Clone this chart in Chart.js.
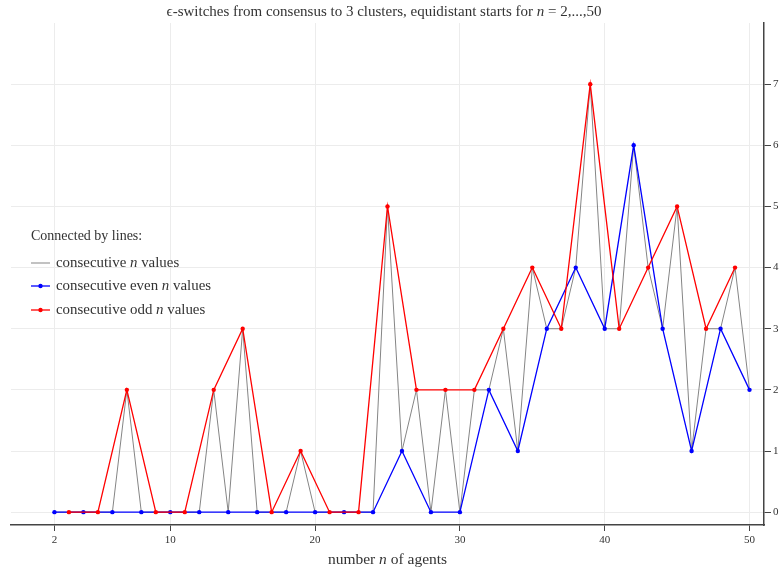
<!DOCTYPE html>
<html>
<head>
<meta charset="utf-8">
<script src="https://cdn.jsdelivr.net/npm/chart.js@4.4.1/dist/chart.umd.min.js"></script>
<style>
  html, body { margin: 0; padding: 0; background: #ffffff; }
  #wrap { width: 780px; height: 572px; }
</style>
</head>
<body>
<div id="wrap"><canvas id="chart" width="780" height="572"></canvas></div>
<script>
// number of agents n
const agentCounts = [2, 3, 4, 5, 6, 7, 8, 9, 10, 11, 12, 13, 14, 15, 16, 17, 18, 19, 20,
  21, 22, 23, 24, 25, 26, 27, 28, 29, 30, 31, 32, 33, 34, 35, 36, 37, 38, 39, 40,
  41, 42, 43, 44, 45, 46, 47, 48, 49, 50];
// number of epsilon-switches observed for each n
const switchCounts = [0, 0, 0, 0, 0, 2, 0, 0, 0, 0, 0, 2, 0, 3, 0, 0, 0, 1, 0,
  0, 0, 0, 0, 5, 1, 2, 0, 2, 0, 2, 2, 3, 1, 4, 3, 3, 4, 7, 3,
  3, 6, 4, 3, 5, 1, 3, 3, 4, 2];
const xTickValues = [2, 10, 20, 30, 40, 50];
const yTickValues = [0, 1, 2, 3, 4, 5, 6, 7];

const titleParts = [['\u03F5-switches from consensus to 3 clusters, equidistant starts for ', false], ['n', true], [' = 2,...,50', false]];
const xTitleParts = [['number ', false], ['n', true], [' of agents', false]];
const legendHeading = 'Connected by lines:';
const legendParts = [
  [['consecutive ', false], ['n', true], [' values', false]],
  [['consecutive even ', false], ['n', true], [' values', false]],
  [['consecutive odd ', false], ['n', true], [' values', false]]
];

const SERIF = "'Liberation Serif', 'DejaVu Serif', serif";
const TEXT = '#333333';
const GREY = '#858585';
const BLUE = '#0000ff';
const RED = '#ff0000';

const allPoints = agentCounts.map((n, i) => ({ x: n, y: switchCounts[i] }));
const evenPoints = allPoints.filter(p => p.x % 2 === 0);
const oddPoints = allPoints.filter(p => p.x % 2 === 1);

function drawRich(ctx, parts, x, y, size, align) {
  const widths = parts.map(([t, it]) => {
    ctx.font = (it ? 'italic ' : '') + size + 'px ' + SERIF;
    return ctx.measureText(t).width;
  });
  const total = widths.reduce((a, b) => a + b, 0);
  let cx = align === 'center' ? x - total / 2 : x;
  ctx.textAlign = 'left';
  ctx.textBaseline = 'middle';
  parts.forEach(([t, it], i) => {
    ctx.font = (it ? 'italic ' : '') + size + 'px ' + SERIF;
    ctx.fillText(t, cx, y);
    cx += widths[i];
  });
}

// Title, x-axis caption and the in-plot legend, which mix upright and italic text
const annotations = {
  id: 'annotations',
  afterDraw(chart) {
    const ctx = chart.ctx;
    const area = chart.chartArea;
    ctx.save();
    ctx.fillStyle = TEXT;
    drawRich(ctx, titleParts, 384, 12, 15, 'center');
    drawRich(ctx, xTitleParts, (area.left + area.right) / 2, 560, 15.5, 'center');

    ctx.font = '14px ' + SERIF;
    ctx.textAlign = 'left';
    ctx.textBaseline = 'middle';
    ctx.fillText(legendHeading, 31, 236);

    const rows = [263, 286, 310];
    chart.data.datasets.forEach((ds, i) => {
      const y = rows[i];
      ctx.strokeStyle = ds.borderColor;
      ctx.lineWidth = ds.borderWidth;
      ctx.beginPath();
      ctx.moveTo(31, y);
      ctx.lineTo(50, y);
      ctx.stroke();
      if (ds.pointRadius > 0) {
        ctx.fillStyle = ds.pointBackgroundColor;
        ctx.beginPath();
        ctx.arc(40.5, y, ds.pointRadius, 0, Math.PI * 2);
        ctx.fill();
      }
      ctx.fillStyle = TEXT;
      drawRich(ctx, legendParts[i], 56, y, 14.9, 'left');
    });
    ctx.restore();
  }
};

new Chart(document.getElementById('chart'), {
  type: 'line',
  data: {
    datasets: [
      { label: 'consecutive n values', data: allPoints, borderColor: GREY, borderWidth: 1,
        pointRadius: 0, tension: 0, order: 2 },
      { label: 'consecutive even n values', data: evenPoints, borderColor: BLUE, borderWidth: 1.3,
        pointRadius: 2.2, pointBackgroundColor: BLUE, pointBorderWidth: 0, tension: 0, order: 1 },
      { label: 'consecutive odd n values', data: oddPoints, borderColor: RED, borderWidth: 1.3,
        pointRadius: 2.2, pointBackgroundColor: RED, pointBorderWidth: 0, tension: 0, order: 0 }
    ]
  },
  options: {
    responsive: false,
    animation: false,
    devicePixelRatio: 1,
    layout: { padding: { left: 11, top: 23, right: 0, bottom: 0 } },
    plugins: {
      legend: { display: false },
      title: { display: false },
      tooltip: { enabled: false }
    },
    scales: {
      x: {
        type: 'linear',
        position: 'bottom',
        min: -1,
        max: 51,
        afterBuildTicks: s => { s.ticks = xTickValues.map(v => ({ value: v })); },
        afterFit: s => { s.height = 47; },
        grid: { color: '#ececec', lineWidth: 1, tickColor: '#444444', tickLength: 6, drawTicks: true },
        border: { color: '#444444', width: 1.5 },
        ticks: { font: { family: SERIF, size: 11 }, color: TEXT, padding: 3, maxRotation: 0, autoSkip: false }
      },
      y: {
        type: 'linear',
        position: 'right',
        min: -0.21,
        max: 8,
        afterBuildTicks: s => { s.ticks = yTickValues.map(v => ({ value: v })); },
        afterFit: s => { s.width = 16; },
        grid: { color: '#ececec', lineWidth: 1, tickColor: '#444444', tickLength: 7, drawTicks: true },
        border: { color: '#444444', width: 1.5 },
        ticks: { font: { family: SERIF, size: 11 }, color: TEXT, padding: 2, autoSkip: false }
      }
    }
  },
  plugins: [annotations]
});
</script>
</body>
</html>
